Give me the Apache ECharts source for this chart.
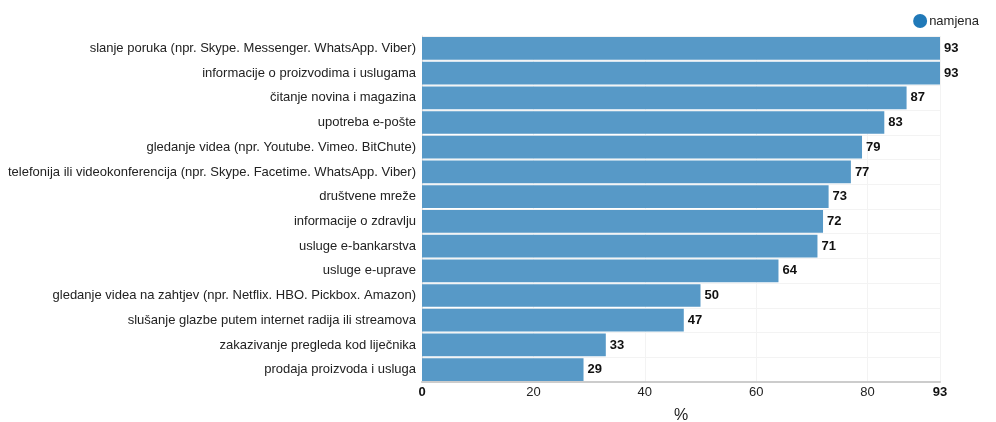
<!DOCTYPE html>
<html><head><meta charset="utf-8">
<script src="https://cdn.jsdelivr.net/npm/echarts@6/dist/echarts.min.js"></script>
<style>html,body{margin:0;padding:0;background:#fff}#c{width:996px;height:422px}</style>
</head><body><div id="c"></div>
<script>
const categories = [
  "slanje poruka (npr. Skype. Messenger. WhatsApp. Viber)",
  "informacije o proizvodima i uslugama",
  "čitanje novina i magazina",
  "upotreba e-pošte",
  "gledanje videa (npr. Youtube. Vimeo. BitChute)",
  "telefonija ili videokonferencija (npr. Skype. Facetime. WhatsApp. Viber)",
  "društvene mreže",
  "informacije o zdravlju",
  "usluge e-bankarstva",
  "usluge e-uprave",
  "gledanje videa na zahtjev (npr. Netflix. HBO. Pickbox. Amazon)",
  "slušanje glazbe putem internet radija ili streamova",
  "zakazivanje pregleda kod liječnika",
  "prodaja proizvoda i usluga"
];
const values = [93, 93, 87, 83, 79, 77, 73, 72, 71, 64, 50, 47, 33, 29];
const seriesName = "namjena";
const axisName = "%";

const chart = echarts.init(document.getElementById('c'));
chart.setOption({
  animation: false,
  textStyle: {fontFamily: 'Liberation Sans, Arial, sans-serif'},
  legend: {
    right: 12, top: 9, icon: 'circle', itemWidth: 14, itemHeight: 14, itemGap: 4,
    textStyle: {fontSize: 13, color: '#222', padding: [0, 0, 0, -3]},
    data: [{name: seriesName, itemStyle: {color: '#2079b8'}}]
  },
  grid: {left: 422, right: 56, top: 36, bottom: 40, containLabel: false, outerBoundsMode: 'none'},
  xAxis: {
    type: 'value', min: 0, max: 93, interval: 20,
    name: axisName, nameLocation: 'middle', nameGap: 26,
    nameTextStyle: {fontSize: 16, color: '#222'},
    axisLine: {show: true, lineStyle: {color: '#ccc', width: 2}},
    axisTick: {show: false},
    splitLine: {show: true, lineStyle: {color: '#f3f3f3'}},
    axisLabel: {
      fontSize: 13, color: '#222', margin: 4, showMinLabel: true, showMaxLabel: true,
      formatter: function (v) {
        if (v === 0 || v === 93) return '{b|' + v + '}';
        return String(v);
      },
      rich: {b: {fontWeight: 'bold', fontSize: 13, color: '#111'}}
    }
  },
  yAxis: {
    type: 'category', data: categories, inverse: true,
    axisLine: {show: true, lineStyle: {color: '#ddd'}},
    axisTick: {show: false},
    splitLine: {show: true, lineStyle: {color: '#f3f3f3'}},
    axisLabel: {fontSize: 13, color: '#222', margin: 6}
  },
  series: [{
    name: seriesName, type: 'bar', data: values,
    barCategoryGap: '8%',
    itemStyle: {color: '#5799c7'},
    label: {show: true, position: 'right', distance: 4, fontWeight: 'bold', fontSize: 13, color: '#111'}
  }]
});
</script></body></html>
